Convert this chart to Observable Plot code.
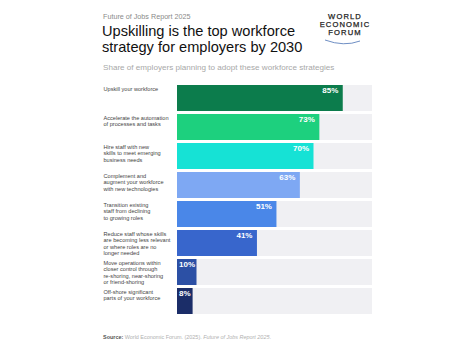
<!DOCTYPE html>
<html>
<head>
<meta charset="utf-8">
<script src="https://cdn.jsdelivr.net/npm/d3@7"></script>
<script src="https://cdn.jsdelivr.net/npm/@observablehq/plot@0.6"></script>
<style>
  html, body { margin: 0; padding: 0; background: #fff; }
  body { width: 474px; height: 355px; position: relative; overflow: hidden; font-family: "Liberation Sans", Arial, sans-serif; }
  .abs { position: absolute; white-space: nowrap; }
  #kicker { left: 103px; top: 12.5px; font-size: 7.2px; line-height: 8px; color: #8a8a8a; }
  .tl { left: 102px; font-size: 14.6px; line-height: 15px; color: #111; }
  #t1 { top: 24px; }
  #t2 { top: 39.5px; }
  #subtitle { left: 103px; top: 62.5px; font-size: 8.1px; line-height: 9px; color: #a8a8a8; }
  #logo { left: 310px; top: 13px; width: 70px; text-align: center; font-size: 7.6px; line-height: 7.8px; letter-spacing: 1.1px; color: #222; -webkit-text-stroke: 0.25px #222; }
  #arc { left: 320px; top: 37.5px; }
  #chart { left: 0; top: 0; }
  #source { left: 103px; top: 334px; font-size: 5.45px; color: #b0b0b0; }
  #source b { color: #555; font-weight: bold; }
</style>
</head>
<body>
<div class="abs" id="kicker">Future of Jobs Report 2025</div>
<div class="abs tl" id="t1">Upskilling is the top workforce</div>
<div class="abs tl" id="t2">strategy for employers by 2030</div>
<div class="abs" id="subtitle">Share of employers planning to adopt these workforce strategies</div>
<div class="abs" id="logo">WORLD<br>ECONOMIC<br>FORUM</div>
<svg class="abs" id="arc" width="52" height="10"><path d="M5,2 Q24,9 40,3" fill="none" stroke="#6f8fc4" stroke-width="1"/></svg>
<div class="abs" id="chart"></div>
<div class="abs" id="source"><b>Source:</b> World Economic Forum. (2025). <i>Future of Jobs Report 2025</i>.</div>
<script>
const strategies = [
  "Upskill your workforce",
  "Accelerate the automation\nof processes and tasks",
  "Hire staff with new\nskills to meet emerging\nbusiness needs",
  "Complement and\naugment your workforce\nwith new technologies",
  "Transition existing\nstaff from declining\nto growing roles",
  "Reduce staff whose skills\nare becoming less relevant\nor where roles are no\nlonger needed",
  "Move operations within\ncloser control through\nre-shoring, near-shoring\nor friend-shoring",
  "Off-shore significant\nparts of your workforce"
];
const shares = [85, 73, 70, 63, 51, 41, 10, 8];
const colors = ["#0c7c4c", "#1dd07e", "#16e2d5", "#7ea8f3", "#4a87e8", "#3866cc", "#2c50a5", "#1b2d68"];

const data = strategies.map((s, i) => ({strategy: s, share: shares[i], color: colors[i]}));

const chart = Plot.plot({
  width: 474,
  height: 355,
  marginLeft: 177,
  marginRight: 102,
  marginTop: 82,
  marginBottom: 37,
  x: {domain: [0, 100], axis: null},
  y: {domain: strategies, axis: null, paddingInner: 0.088, paddingOuter: 0.044},
  style: {fontFamily: "Liberation Sans, Arial, sans-serif", background: "transparent"},
  marks: [
    Plot.barX(data, {y: "strategy", x1: 0, x2: 100, fill: "#f0f0f3"}),
    Plot.barX(data, {y: "strategy", x: "share", fill: "color"}),
    Plot.text(data, {
      y: "strategy", x: 0, text: "strategy",
      dx: -74, textAnchor: "start", lineAnchor: "top",
      dy: -12.5, fontSize: 5.6, lineHeight: 1.17, fill: "#444"
    }),
    Plot.text(data.filter(d => d.share >= 20), {
      y: "strategy", x: "share", text: d => d.share + "%",
      dx: -5, textAnchor: "end", lineAnchor: "top", dy: -11.5,
      fontSize: 8, fontWeight: "bold", fill: "#fff"
    }),
    Plot.text(data.filter(d => d.share < 20), {
      y: "strategy", x: 0, text: d => d.share + "%",
      dx: 1.5, textAnchor: "start", lineAnchor: "top", dy: -11.5,
      fontSize: 8, fontWeight: "bold", fill: "#fff"
    })
  ]
});
document.getElementById("chart").appendChild(chart);
</script>
</body>
</html>
